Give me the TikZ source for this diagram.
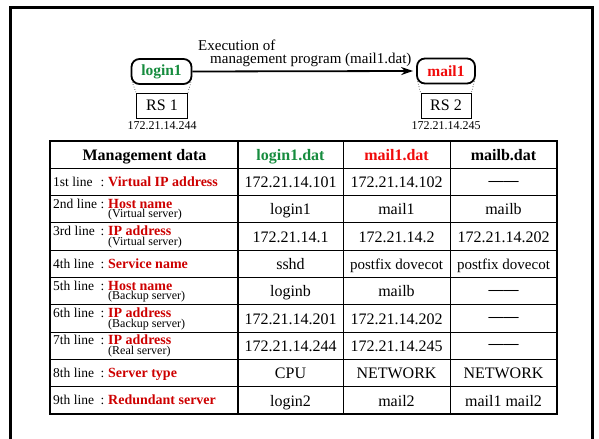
\documentclass[tikz,border=0pt]{standalone}
\usepackage{fontspec}
\setmainfont{Liberation Serif}
\usetikzlibrary{arrows.meta}
\definecolor{hostgreen}{RGB}{22,140,62}
\definecolor{hostred}{RGB}{240,10,10}
\definecolor{fieldred}{RGB}{205,0,0}
\newcommand\fsz[1]{\fontsize{#1bp}{#1bp}\selectfont}
\newcommand\nodash{\raisebox{2.5bp}{\fsz{15}\bfseries ——}}
\newcommand\fieldtext[2]{\makebox[47.5bp][l]{#1 line}:\hspace{3.75bp}{\fsz{14}\bfseries\color{fieldred}#2}}

\begin{document}
\begin{tikzpicture}[x=1bp, y=-1bp,
  hostbox/.style={draw, line width=1.8bp, rounded corners=8bp, minimum width=60bp,
    minimum height=25bp, inner sep=0pt, font=\fsz{15.5}\bfseries},
  rsbox/.style={draw, line width=0.9bp, minimum width=51bp, minimum height=25bp,
    inner sep=0pt, font=\fsz{16}},
  ipnote/.style={inner sep=0pt, anchor=base, font=\fsz{12}},
  hdr/.style={inner sep=0pt, anchor=base, font=\fsz{16}\bfseries},
  val/.style={inner sep=0pt, anchor=base, font=\fsz{16}},
  fld/.style={inner sep=0pt, anchor=base west, font=\fsz{13.5}},
  subfld/.style={inner sep=0pt, anchor=base west, font=\fsz{12}},
  gridline/.style={line width=1bp},
  link/.style={dotted, line width=0.6bp}]
\useasboundingbox (0,0) rectangle (599,439);

% outer frame
\draw[line width=3bp] (10.5,439) -- (10.5,7.3) -- (592.5,7.3) -- (592.5,439);

% servers
\node[hostbox, text=hostgreen] (login1) at (161.5,71.5) {login1};
\node[rsbox] (rs1) at (162,105.5) {RS 1};
\node[ipnote] (ip1) at (162,130) {172.21.14.244};
\draw[link] ([xshift=1.5bp,yshift=3bp]login1.south west) -- (rs1.north west);
\draw[link] ([xshift=-1.5bp,yshift=3bp]login1.south east) -- (rs1.north east);

\node[hostbox, text=hostred, minimum width=58bp] (mail1) at (446,71) {mail1};
\node[rsbox, minimum width=50bp] (rs2) at (446,105.5) {RS 2};
\node[ipnote] (ip2) at (446,130) {172.21.14.245};
\draw[link] ([xshift=1.5bp,yshift=3bp]mail1.south west) -- (rs2.north west);
\draw[link] ([xshift=-1.5bp,yshift=3bp]mail1.south east) -- (rs2.north east);

\draw[line width=1.8bp, -{Stealth[length=12bp,width=8bp]}, shorten >=3bp]
  (login1.east) -- (mail1.west);
\node[inner sep=0pt, anchor=north west, align=left, font=\fontsize{15bp}{12.5bp}\selectfont]
  (exec) at (198,40) {Execution of\\\hspace*{12bp}management program (mail1.dat)};

% table grid
\foreach \r in {1,...,9}
  \draw[gridline] (50,{141+27.3*\r}) -- (557,{141+27.3*\r});
\draw[line width=1.6bp] (238,141) -- (238,414);
\draw[gridline] (343,141) -- (343,414);
\draw[gridline] (450,141) -- (450,414);
\draw[line width=2bp] (50,141) rectangle (557,414);

% header row
\node[hdr] (h0) at (144.5,160.3) {Management data};
\node[hdr, text=hostgreen] (h1) at (290.5,160.3) {login1.dat};
\node[hdr, text=hostred] (h2) at (396.5,160.3) {mail1.dat};
\node[hdr] (h3) at (503.5,160.3) {mailb.dat};

% values
\foreach \r/\a/\b/\c in {
  1/172.21.14.101/172.21.14.102/\nodash,
  2/login1/mail1/mailb,
  3/172.21.14.1/172.21.14.2/172.21.14.202,
  4/sshd/{\fsz{15}postfix dovecot}/{\fsz{15}postfix dovecot},
  5/loginb/mailb/\nodash,
  6/172.21.14.201/172.21.14.202/\nodash,
  7/172.21.14.244/172.21.14.245/\nodash,
  8/CPU/NETWORK/NETWORK,
  9/login2/mail2/mail1 mail2}
{
  \pgfmathsetmacro\yb{141+27.3*\r+13.65+5.7}
  \node[val] (v\r-1) at (290.5,\yb) {\a};
  \node[val] (v\r-2) at (396.5,\yb) {\b};
  \node[val] (v\r-3) at (503.5,\yb) {\c};
}

% field names, one line
\foreach \r/\n/\f in {1/1st/Virtual IP address, 4/4th/Service name,
  8/8th/Server type, 9/9th/Redundant server}
{
  \pgfmathsetmacro\yb{141+27.3*\r+18.15}
  \node[fld] (f\r) at (53,\yb) {\fieldtext{\n}{\f}};
}

% field names with a note below
\foreach \r/\n/\f/\s in {2/2nd/Host name/(Virtual server),
  3/3rd/IP address/(Virtual server), 5/5th/Host name/(Backup server),
  6/6th/IP address/(Backup server), 7/7th/IP address/(Real server)}
{
  \pgfmathsetmacro\yb{141+27.3*\r+12.6}
  \pgfmathsetmacro\ys{141+27.3*\r+22.2}
  \node[fld] (f\r) at (53,\yb) {\fieldtext{\n}{\f}};
  \node[subfld] (s\r) at (108,\ys) {\s};
}
\end{tikzpicture}
\end{document}
